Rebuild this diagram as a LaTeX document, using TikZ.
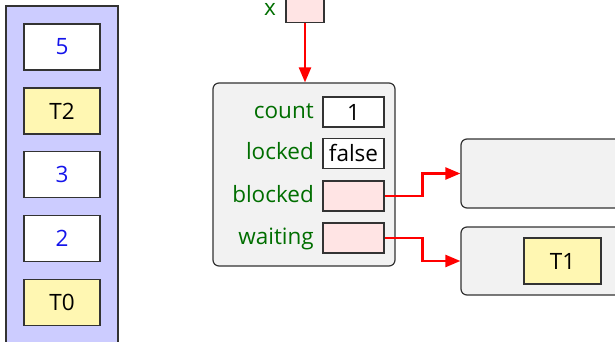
\documentclass[tikz,border=0pt]{standalone}
\usepackage{fontspec}
\setmainfont{Open Sans}
\usetikzlibrary{arrows.meta}
\definecolor{lav}{RGB}{204,204,255}
\definecolor{cellyel}{RGB}{255,247,178}
\definecolor{cellpink}{RGB}{255,228,228}
\definecolor{objgray}{RGB}{242,242,242}
\definecolor{lblgreen}{RGB}{0,110,0}
\definecolor{numblue}{RGB}{20,20,235}
\begin{document}
\begin{tikzpicture}[x=1pt,y=-1pt,
  every node/.style={font=\fontsize{22.5}{26}\selectfont},
  cell/.style={draw=black!80,line width=1.2pt,minimum width=76pt,minimum height=46pt,inner sep=0pt},
  numcell/.style={cell,fill=white,text=numblue},
  thrcell/.style={cell,fill=cellyel},
  field/.style={draw=black!80,line width=1.2pt,minimum width=61pt,minimum height=30pt,inner sep=0pt},
  fieldlbl/.style={anchor=base east,text=lblgreen,inner sep=0pt},
  objbox/.style={draw=black!80,line width=1.2pt,fill=objgray,rounded corners=6pt,inner sep=0pt},
  ptr/.style={draw=red,line width=2.4pt,-{Triangle[length=15pt,width=12pt]}}]
\useasboundingbox (0,0) rectangle (615,342);
% stack
\node[draw=black!80,line width=1.2pt,fill=lav,minimum width=112pt,minimum height=350pt,inner sep=0pt] (stack) at (62,181) {};
\node[numcell] (s5) at (62,47) {5};
\node[thrcell] (s4) at (62,111) {T2};
\node[numcell] (s3) at (62,174.5) {3};
\node[numcell] (s2) at (62,238.5) {2};
\node[thrcell] (s1) at (62,302.5) {T0};
% variable x
\node[field,fill=cellpink,minimum width=38pt,minimum height=32pt] (xbox) at (305,6.5) {};
\node[text=lblgreen,inner sep=0pt,anchor=base] (xlbl) at (270,15.5) {x};
% object
\node[objbox,minimum width=182pt,minimum height=183pt] (obj) at (304,174.5) {};
\node[field,fill=white] (count) at (353.5,112) {1};
\node[field,fill=white] (locked) at (353.5,153.5) {false};
\node[field,fill=cellpink] (blocked) at (353.5,196) {};
\node[field,fill=cellpink] (waiting) at (353.5,238) {};
\node[fieldlbl] (lcount) at (314,118) {count};
\node[fieldlbl] (llocked) at (314,159.5) {locked};
\node[fieldlbl] (lblocked) at (314,202) {blocked};
\node[fieldlbl] (lwaiting) at (314,244) {waiting};
% queues
\node[objbox,minimum width=164pt,minimum height=69pt] (q1) at (543,173.5) {};
\node[objbox,minimum width=164pt,minimum height=68pt] (q2) at (543,261) {};
\node[thrcell,minimum width=77pt] (t1) at (562.5,261) {T1};
% pointers
\draw[ptr] (xbox.south) -- (xbox.south |- obj.north);
\draw[ptr] (blocked.east) -- ++(38,0) |- (q1.west);
\draw[ptr] (waiting.east) -- ++(38,0) |- (q2.west);
\end{tikzpicture}
\end{document}
